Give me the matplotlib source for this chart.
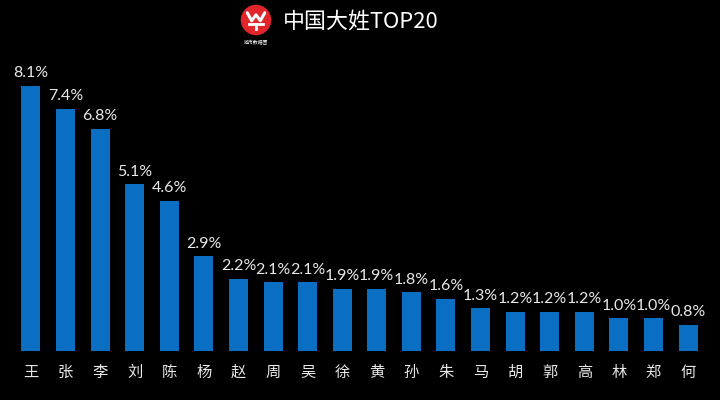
import matplotlib
matplotlib.use("Agg")
import matplotlib.pyplot as plt
from matplotlib.patches import Circle

plt.rcParams['font.family'] = ['Noto Sans CJK SC', 'DejaVu Sans']

surnames = ["王", "张", "李", "刘", "陈", "杨", "赵", "周", "吴", "徐",
            "黄", "孙", "朱", "马", "胡", "郭", "高", "林", "郑", "何"]
shares = [8.1, 7.4, 6.8, 5.1, 4.6, 2.9, 2.2, 2.1, 2.1, 1.9,
          1.9, 1.8, 1.6, 1.3, 1.2, 1.2, 1.2, 1.0, 1.0, 0.8]
title = "中国大姓TOP20"
brand = "城市数据团"

bg = "black"
bar_color = "#0A6FC2"
text_color = "#E8E8E8"

fig = plt.figure(figsize=(7.2, 4.0), dpi=100, facecolor=bg)
ax = fig.add_axes([0.019, 0.1225, 0.9606, 0.736])
ax.set_facecolor(bg)
x = list(range(len(surnames)))
bars = ax.bar(x, shares, width=0.55, color=bar_color)
ax.set_xlim(-0.5, len(surnames) - 0.5)
ax.set_ylim(0, 9)
for xi, v in zip(x, shares):
    ax.annotate(f"{v:.1f}%", (xi, v), xytext=(0, 4), textcoords="offset points",
                ha="center", va="bottom", color=text_color, fontsize=11.5,
                family=["Lato", "DejaVu Sans"], fontweight="normal")
ax.set_xticks(x)
ax.set_xticklabels(surnames, color=text_color, fontsize=11)
ax.tick_params(axis="x", length=0, pad=9)
ax.set_yticks([])
for s in ax.spines.values():
    s.set_visible(False)

fig.text(283 / 720, 1 - 21 / 400, title, color="white", fontsize=15.8,
         ha="left", va="center")

# logo
lax = fig.add_axes([(256 - 16) / 720, 1 - 36 / 400, 32 / 720, 32 / 400])
lax.set_xlim(-1.1, 1.1)
lax.set_ylim(-1.1, 1.1)
lax.set_aspect("equal")
lax.axis("off")
lax.add_patch(Circle((0, 0), 1.0, color="#E0262B"))
lax.plot([-0.6, -0.3, 0, 0.3, 0.6], [0.5, -0.05, 0.35, -0.05, 0.5],
         color="white", lw=2.2, solid_capstyle="round")
lax.plot([-0.45, 0.45], [-0.3, -0.3], color="white", lw=2)
lax.plot([0, 0], [-0.3, -0.65], color="white", lw=2)
fig.text(256 / 720, 1 - 43 / 400, brand, color="white", fontsize=3.5,
         ha="center", va="center")

fig.savefig("out.png", dpi=100, facecolor=bg)
